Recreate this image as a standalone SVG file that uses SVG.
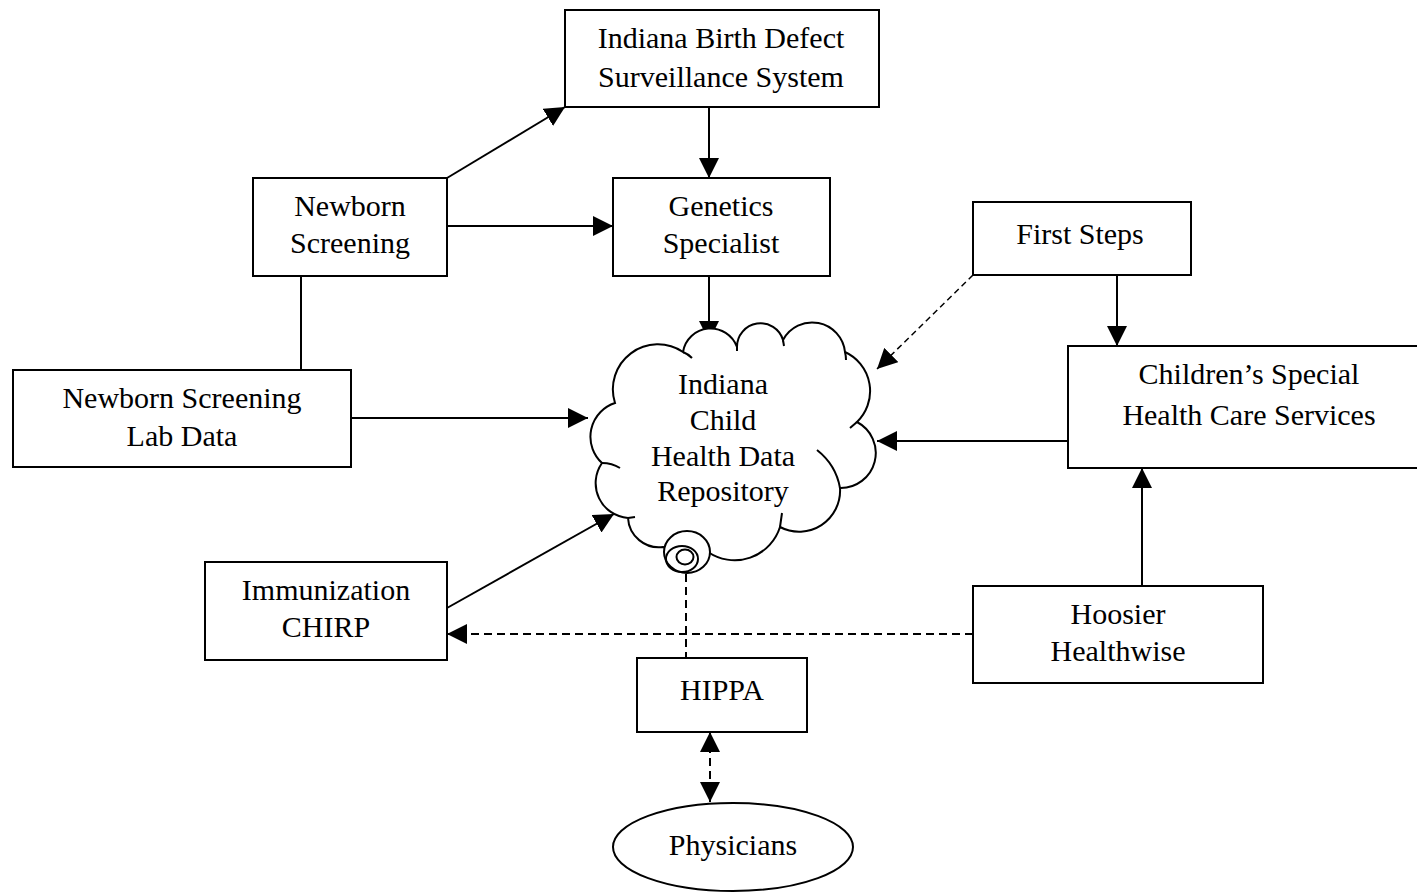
<svg xmlns="http://www.w3.org/2000/svg" width="1417" height="893" viewBox="0 0 1417 893">
<style>
.box{fill:#fff;stroke:#000;stroke-width:2}
.t{font-family:"Liberation Serif","Times New Roman",serif;font-size:30px;fill:#000;text-anchor:middle}
.c{fill:none;stroke:#000;stroke-width:2}
.d{stroke-dasharray:8,5}
.df{stroke-dasharray:6,4;stroke-width:1.5}
</style>
<defs>
<marker id="ah" markerUnits="userSpaceOnUse" markerWidth="20" markerHeight="20" refX="20" refY="10" orient="auto-start-reverse" viewBox="0 0 20 20">
<path d="M0,0 L20,10 L0,20 z" fill="#000"/>
</marker>
</defs>
<rect width="1417" height="893" fill="#fff"/>
<g id="connectors">
<line class="c" x1="447" y1="178" x2="565" y2="107" marker-end="url(#ah)"/>
<line class="c" x1="709" y1="107" x2="709" y2="178" marker-end="url(#ah)"/>
<line class="c" x1="445" y1="226" x2="613" y2="226" marker-end="url(#ah)"/>
<line class="c" x1="709" y1="276" x2="709" y2="341" marker-end="url(#ah)"/>
<line class="c" x1="301" y1="276" x2="301" y2="370"/>
<line class="c" x1="351" y1="418" x2="588" y2="418" marker-end="url(#ah)"/>
<line class="c" x1="447" y1="608" x2="614" y2="514" marker-end="url(#ah)"/>
<line class="c d" x1="973" y1="634" x2="447" y2="634" marker-end="url(#ah)"/>
<line class="c df" x1="973" y1="275" x2="877" y2="369" marker-end="url(#ah)"/>
<line class="c" x1="1117" y1="275" x2="1117" y2="346" marker-end="url(#ah)"/>
<line class="c" x1="1068" y1="441" x2="877" y2="441" marker-end="url(#ah)"/>
<line class="c" x1="1142" y1="586" x2="1142" y2="468" marker-end="url(#ah)"/>
<line class="c d" x1="686" y1="574" x2="686" y2="658"/>
<line class="c d" x1="710" y1="732" x2="710" y2="802" marker-start="url(#ah)" marker-end="url(#ah)"/>
</g>
<g id="ibdss">
<rect class="box" x="565" y="10" width="314" height="97"/>
<text class="t" x="721" y="48">Indiana Birth Defect</text>
<text class="t" x="721" y="87">Surveillance System</text>
</g>
<g id="genetics">
<rect class="box" x="613" y="178" width="217" height="98"/>
<text class="t" x="721" y="216">Genetics</text>
<text class="t" x="721" y="253">Specialist</text>
</g>
<g id="newborn">
<rect class="box" x="253" y="178" width="194" height="98"/>
<text class="t" x="350" y="216">Newborn</text>
<text class="t" x="350" y="253">Screening</text>
</g>
<g id="nslab">
<rect class="box" x="13" y="370" width="338" height="97"/>
<text class="t" x="182" y="408">Newborn Screening</text>
<text class="t" x="182" y="446">Lab Data</text>
</g>
<g id="immunization">
<rect class="box" x="205" y="562" width="242" height="98"/>
<text class="t" x="326" y="600">Immunization</text>
<text class="t" x="326" y="637">CHIRP</text>
</g>
<g id="firststeps">
<rect class="box" x="973" y="202" width="218" height="73"/>
<text class="t" x="1080" y="244">First Steps</text>
</g>
<g id="cshcs">
<rect class="box" x="1068" y="346" width="370" height="122"/>
<text class="t" x="1249" y="384">Children’s Special</text>
<text class="t" x="1249" y="425">Health Care Services</text>
</g>
<g id="hoosier">
<rect class="box" x="973" y="586" width="290" height="97"/>
<text class="t" x="1118" y="624">Hoosier</text>
<text class="t" x="1118" y="661">Healthwise</text>
</g>
<g id="hippa">
<rect class="box" x="637" y="658" width="170" height="74"/>
<text class="t" x="722" y="700">HIPPA</text>
</g>
<g id="physicians">
<ellipse class="box" cx="733" cy="847" rx="120" ry="44"/>
<text class="t" x="733" y="855">Physicians</text>
</g>
<g id="repository">
<path class="box" d="M683,352 A28,28 0 0 1 737,347 A23.5,23.5 0 0 1 783,340 A33,33 0 0 1 845,352 A43,43 0 0 1 857,422 A35,35 0 0 1 840,488 A41,41 0 0 1 780,527 A47.5,47.5 0 0 1 708,552 L663,547 A31,31 0 0 1 628,518 A35,35 0 0 1 602,463 A35.5,35.5 0 0 1 615,403 A45,45 0 0 1 683,352 Z"/>
<path class="c" d="M683,352 Q688,354 692,358 M737,347 L737,351 M783,340 L784,346 M845,352 Q846,356 846,360 M857,422 L850,428 M817,450 Q836,465 840,488 M780,527 L782,513 M628,518 L635,517 M602,463 Q612,463 620,468"/>
<ellipse cx="687" cy="552" rx="23" ry="21" fill="#fff" stroke="#000" stroke-width="2"/>
<ellipse cx="682" cy="559" rx="16" ry="13" fill="none" stroke="#000" stroke-width="2"/>
<ellipse cx="685" cy="557" rx="8.5" ry="7.5" fill="none" stroke="#000" stroke-width="2"/>
<text class="t" x="723" y="394">Indiana</text>
<text class="t" x="723" y="430">Child</text>
<text class="t" x="723" y="466">Health Data</text>
<text class="t" x="723" y="501">Repository</text>
</g>
</svg>
